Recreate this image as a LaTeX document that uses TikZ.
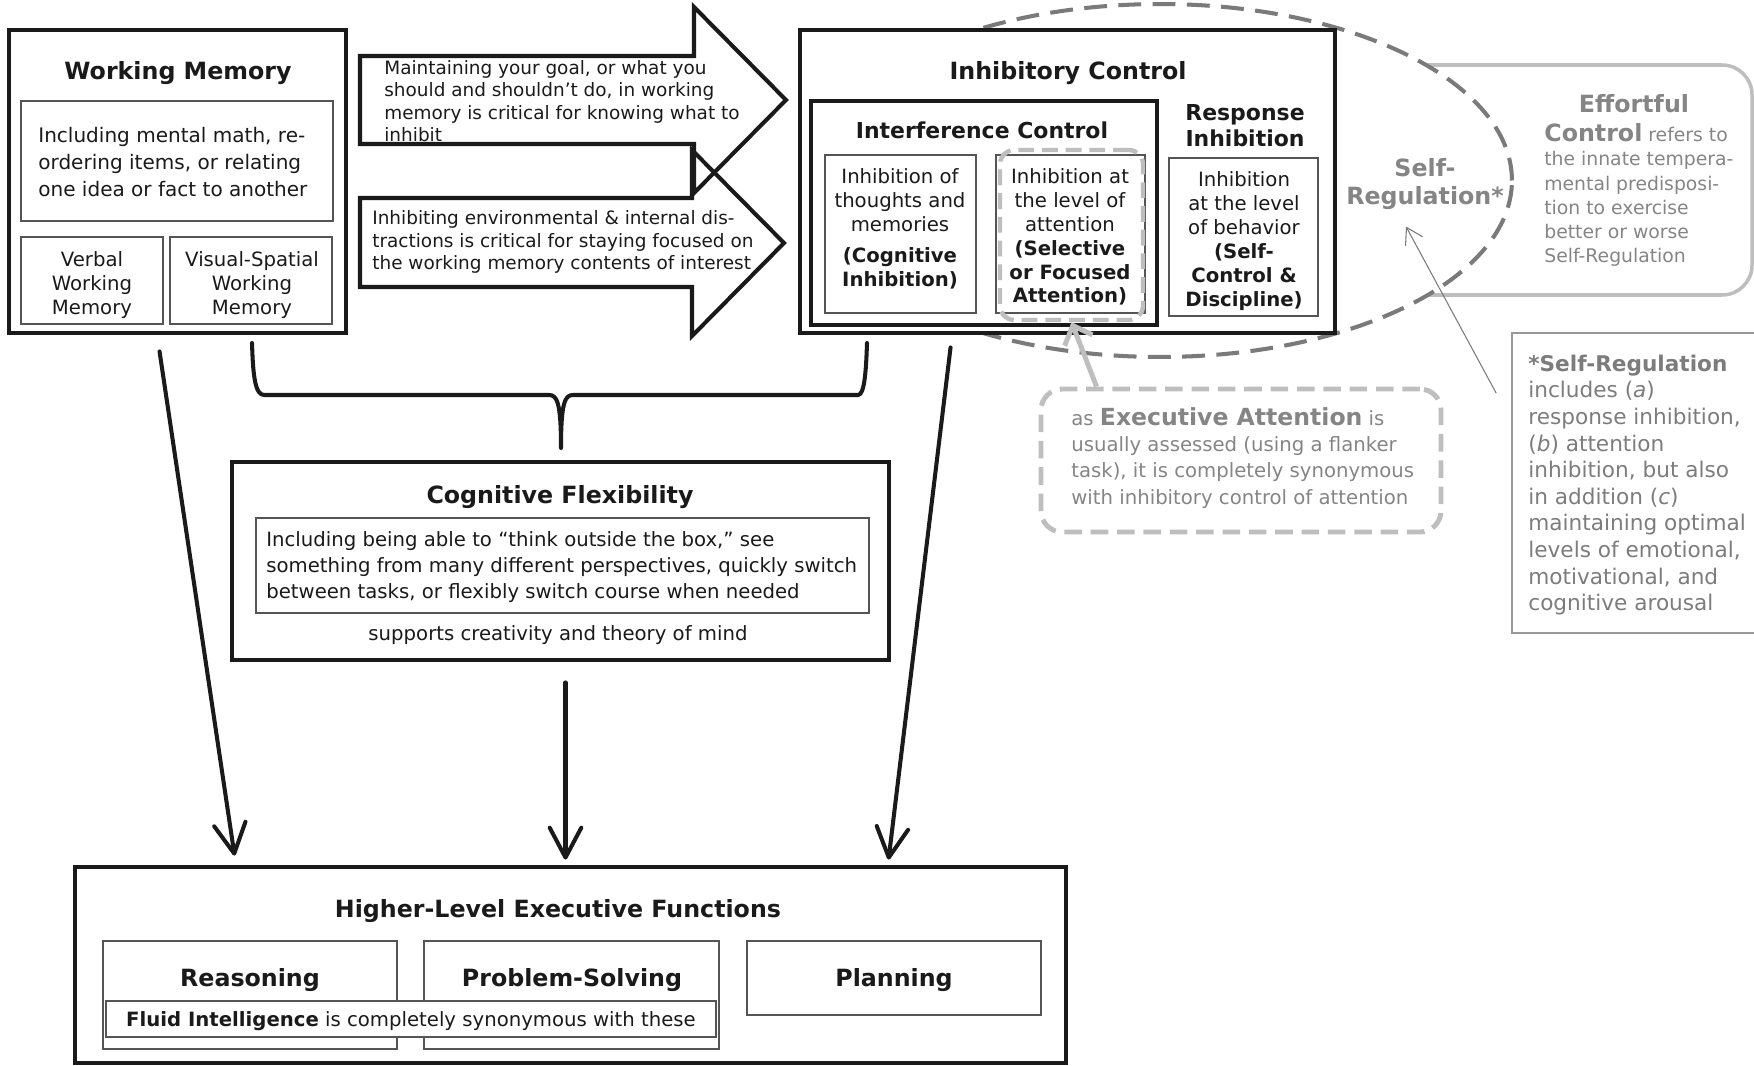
\documentclass[tikz,border=0pt]{standalone}
\usepackage{fontspec}
\setmainfont{DejaVu Sans}
\usetikzlibrary{fit,calc,shapes.geometric,arrows.meta}

\definecolor{ink}{HTML}{1A1A1A}
\definecolor{rulegray}{HTML}{555555}
\definecolor{dashgray}{HTML}{7A7A7A}
\definecolor{palegray}{HTML}{BEBEBE}
\definecolor{textgray}{HTML}{858585}
\definecolor{notegray}{HTML}{7C7C7C}

\begin{document}
\begin{tikzpicture}[x=0.02cm, y=-0.02cm,
    every node/.style={inner sep=0pt, text=ink},
    bigbox/.style={draw=ink, line width=2.8pt, fill=white},
    midbox/.style={draw=ink, line width=2pt},
    cell/.style={draw=rulegray, line width=0.85pt, fill=white},
    heading/.style={font=\fontsize{13.5}{16}\selectfont\bfseries},
    subheading/.style={font=\fontsize{12.5}{14.7}\selectfont\bfseries, align=center},
    bodytext/.style={font=\fontsize{11.4}{15.3}\selectfont, align=left},
    celltext/.style={font=\fontsize{11.2}{13.6}\selectfont, align=center},
    arrowtext/.style={font=\fontsize{10.5}{12.8}\selectfont, align=left},
    cogtext/.style={font=\fontsize{11.2}{14.9}\selectfont, align=left},
    blockarrow/.style={draw=ink, line width=2.3pt, line join=miter},
    downarrow/.style={draw=ink, line width=2.3pt, line cap=round, -{Straight Barb[length=17pt, width=18pt, round]}},
    bracestroke/.style={draw=ink, line width=2.3pt, line cap=round, line join=round},
    srellipse/.style={ellipse, draw=dashgray, fill=white, line width=2.3pt, dash pattern=on 13pt off 6.5pt},
    effbox/.style={draw=palegray, line width=2pt, rounded corners=17pt},
    notebox/.style={draw=gray!80, line width=0.9pt},
    execbox/.style={draw=palegray, line width=2.8pt, rounded corners=12pt, dash pattern=on 10pt off 5pt},
    focusbox/.style={draw=palegray, line width=2.5pt, rounded corners=8pt, dash pattern=on 9pt off 4.5pt},
    execarrow/.style={draw=palegray, line width=2.8pt, -{Straight Barb[length=9pt, width=17pt]}},
    srarrow/.style={draw=dashgray, line width=0.6pt, -{Straight Barb[length=9pt, width=11pt]}}]
    \useasboundingbox (0,0) rectangle (1754,1065);

    \node[bigbox, fit={(9,30) (346,333)}] (wm) {};
    \node[heading] (wmtitle) at (178,73) {Working Memory};
    \node[cell, fit={(21,101) (333,221)}] (wmdesc) {};
    \node[bodytext, anchor=west] (wmdesctxt) at (38,162) {Including mental math, re-\\ordering items, or relating\\one idea or fact to another};
    \node[cell, fit={(21,237) (163,324)}] (verbal) {};
    \node[celltext] (verbaltxt) at (92,285) {Verbal\\Working\\Memory};
    \node[cell, fit={(170,237) (332,324)}] (visual) {};
    \node[celltext] (visualtxt) at (252,285) {Visual-Spatial\\Working\\Memory};

    \draw[blockarrow] (360,56) -- (694,56) -- (694,7) -- (786,100) -- (694,193) -- (694,144) -- (360,144) -- cycle;
    \draw[blockarrow] (360,198) -- (692,198) -- (692,150) -- (784,243) -- (692,336) -- (692,287) -- (360,287) -- cycle;
    \node[arrowtext, anchor=west] (goaltxt) at (384,101) {Maintaining your goal, or what you\\should and shouldn’t do, in working\\memory is critical for knowing what to\\inhibit};
    \node[arrowtext, anchor=west] (distracttxt) at (372,242) {Inhibiting environmental \& internal dis-\\tractions is critical for staying focused on\\the working memory contents of interest};

    \node[effbox, fit={(1380,65) (1752,295)}] (effort) {};
    \node[srellipse, minimum width=14.08cm, minimum height=7.06cm] (selfreg) at (1160,180.5) {};
    \node[heading, text=textgray] (efftitle) at (1634,104) {Effortful};
    \node[font=\fontsize{10.7}{13.7}\selectfont, text=textgray, align=left, anchor=west] (efftxt) at (1544,195) {{\fontsize{13.5}{16}\selectfont\bfseries Control} refers to\\the innate tempera-\\mental predisposi-\\tion to exercise\\better or worse\\Self-Regulation};

    \node[bigbox, fit={(800,30) (1335,333)}] (inhib) {};
    \node[heading] (inhibtitle) at (1068,73) {Inhibitory Control};
    \node[midbox, fit={(811,101) (1157,325)}] (interf) {};
    \node[subheading] (interftitle) at (982,130) {Interference Control};
    \node[subheading] (resptitle) at (1245,126) {Response\\Inhibition};
    \node[cell, fit={(825,155) (976,313)}] (cogin) {};
    \node[celltext] (cogintxt) at (900,229) {Inhibition of\\thoughts and\\memories\\[4pt]\textbf{(Cognitive}\\\textbf{Inhibition)}};
    \node[cell, fit={(996,155) (1145,313)}] (attin) {};
    \node[celltext] (attintxt) at (1070,237) {Inhibition at\\the level of\\attention\\\textbf{(Selective}\\\textbf{or Focused}\\\textbf{Attention)}};
    \node[cell, fit={(1169,158) (1318,316)}] (behin) {};
    \node[celltext] (behintxt) at (1244,241) {Inhibition\\at the level\\of behavior\\\textbf{(Self-}\\\textbf{Control \&}\\\textbf{Discipline)}};
    \node[focusbox, fit={(1000,150) (1143,320)}] (focus) {};

    \node[heading, text=textgray, align=center, font=\fontsize{13.5}{15.5}\selectfont\bfseries] (srlabel) at (1425,184) {Self-\\Regulation*};
    \node[notebox, fit={(1512,333) (1770,633)}] (srnote) {};
    \node[font=\fontsize{12.3}{15.15}\selectfont, text=notegray, align=left, anchor=west] (srnotetxt) at (1528,485) {\textbf{*Self-Regulation}\\includes (\textit{a})\\response inhibition,\\(\textit{b}) attention\\inhibition, but also\\in addition (\textit{c})\\maintaining optimal\\levels of emotional,\\motivational, and\\cognitive arousal};
    \coordinate (srfoot) at ($(srnote.north west)+(-15,61)$);
    \draw[srarrow] (srfoot) -- ($(srlabel.south)+(-19,17)$);

    \node[execbox, fit={(1041,389) (1441,532)}] (execatt) {};
    \node[font=\fontsize{11.2}{14.9}\selectfont, text=textgray, align=left, anchor=west] (exectxt) at (1071,458) {as {\fontsize{13.4}{16}\selectfont\bfseries Executive Attention} is\\usually assessed (using a flanker\\task), it is completely synonymous\\with inhibitory control of attention};
    \draw[execarrow] ($(execatt.north west)+(58,0)$) -- (focus.south);

    \draw[bracestroke] (252,343) .. controls (253,375) and (255,395) .. (264,395) -- (549,395) .. controls (557,395) and (561,402) .. (561,448) .. controls (561,402) and (565,395) .. (573,395) -- (858,395) .. controls (864,395) and (866,375) .. (867,343);

    \node[bigbox, fit={(232,462) (889,660)}] (cogflex) {};
    \node[heading] (cogtitle) at (560,497) {Cognitive Flexibility};
    \node[cell, fit={(256,518) (869,613)}] (cogdesc) {};
    \node[cogtext, anchor=west] (cogdesctxt) at (266,567) {Including being able to “think outside the box,” see\\something from many different perspectives, quickly switch\\between tasks, or flexibly switch course when needed};
    \node[cogtext] (cogsupport) at (558,635) {supports creativity and theory of mind};

    \node[bigbox, fit={(75,867) (1066,1063)}] (hlef) {};
    \node[heading] (hleftitle) at (558,911) {Higher-Level Executive Functions};
    \node[cell, fit={(103,941) (397,1049)}] (reason) {};
    \node[cell, fit={(424,941) (719,1049)}] (solve) {};
    \node[cell, fit={(747,941) (1041,1015)}] (plan) {};
    \node[heading] (reasontxt) at (250,980) {Reasoning};
    \node[heading] (solvetxt) at (572,980) {Problem-Solving};
    \node[heading] (plantxt) at ($(plan)+(0,2)$) {Planning};
    \node[cell, fit={(106,1001) (716,1037)}] (fluid) {};
    \node[font=\fontsize{11.2}{13.6}\selectfont] (fluidtxt) at ($(fluid)+(0,2)$) {\textbf{Fluid Intelligence} is completely synonymous with these};

    \coordinate (wmfoot) at ($(wm.south west)+(153,16)$);
    \coordinate (icfoot) at ($(inhib.south west)+(153,12)$);
    \draw[downarrow] (wmfoot) -- ($(hlef.north west)+(162,-9)$);
    \draw[downarrow] ($(cogflex.south)+(5,20)$) -- ($(cogflex.south |- hlef.north)+(5,-5)$);
    \draw[downarrow] (icfoot) -- ($(hlef.north west)+(816,-5)$);
\end{tikzpicture}
\end{document}
